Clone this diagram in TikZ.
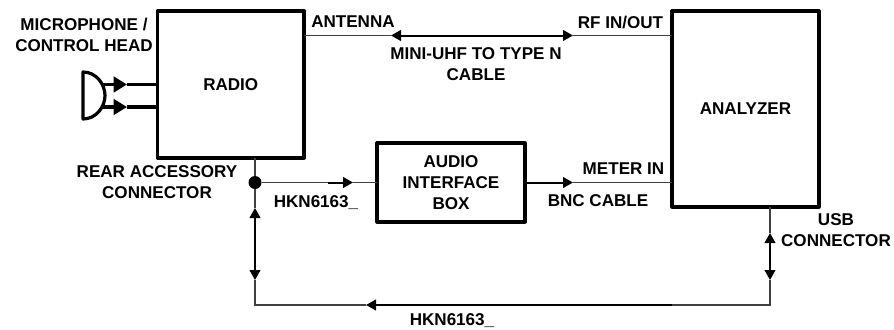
\documentclass[tikz,border=0pt]{standalone}
\usepackage{fontspec}
\setmainfont{Liberation Sans}
\usetikzlibrary{arrows.meta, positioning}

\begin{document}
\begin{tikzpicture}[
    x=0.75pt, y=-0.75pt,
    >={Triangle[length=7.5pt,width=8pt]},
    unit/.style={
        draw=black, fill=white, line width=2.4pt, line join=round, inner sep=0pt, outer sep=0pt,
        align=center, font=\fontsize{12.8}{15.6}\selectfont\bfseries},
    tag/.style={inner sep=0pt, align=center, font=\fontsize{12.8}{15.8}\selectfont\bfseries},
    wire/.style={line width=0.8pt, draw=black!75},
    cable/.style={line width=1.5pt, draw=black},
    micflow/.style={line width=2.4pt, draw=black, >={Triangle[length=10pt,width=11.5pt]}},
    joint/.style={circle, fill=black, inner sep=0pt, minimum size=9.75pt}
]
\useasboundingbox (0,0) rectangle (894,329);

%% Main boxes
\node[unit, minimum width=110pt, minimum height=110.25pt] (radio)    at (230.75,84.5) {RADIO};
\node[unit, minimum width=110.25pt, minimum height=147pt] (analyzer) at (745.5,109)   {ANALYZER};
\node[unit, minimum width=111pt, minimum height=59.25pt]  (audio)    at (451,182.5)   {AUDIO\\INTERFACE\\BOX};
\node[joint] (junction) at (255,182.5) {};

%% Points where the lines change weight
\coordinate (antL) at (391,35.5);
\coordinate (antR) at (573,35.5);
\coordinate (hknA) at (328,182.5);
\coordinate (hknB) at (353,182.5);
\coordinate (bncB) at (573,182.5);
\coordinate (jctU) at (255,208);
\coordinate (jctD) at (255,280);
\coordinate (cornL) at (255,305);
\coordinate (botL) at (366,305);
\coordinate (botR) at (672,305);
\coordinate (cornR) at (770,305);
\coordinate (usbD) at (770,280);
\coordinate (usbU) at (770,233);
\coordinate (micA) at (103,84.5);
\coordinate (micB) at (103,107);
\coordinate (micAt) at (127,84.5);
\coordinate (micBt) at (127,107);

%% Microphone
\draw[line width=2.4pt, line join=round] (83,72) .. controls (96,72) and (105,84) .. (105,95.5)
    .. controls (105,107) and (96,119) .. (83,119) -- cycle;
\draw[micflow, ->] (micA) -- (micAt);
\draw[micflow, ->] (micB) -- (micBt);
\draw[micflow] (micAt) -- (radio.west |- micAt);
\draw[micflow] (micBt) -- (radio.west |- micBt);

%% Antenna cable
\draw[wire] (radio.east |- antL) -- (antL);
\draw[cable, <->] (antL) -- (antR);
\draw[wire] (antR) -- (analyzer.west |- antR);

%% Audio path
\draw[wire] (radio.south -| junction) -- (junction);
\draw[wire] (junction) -- (hknA);
\draw[cable, ->] (hknA) -- (hknB);
\draw[wire] (hknB) -- (audio.west);
\draw[cable, ->] (audio.east) -- (bncB);
\draw[wire] (bncB) -- (analyzer.west |- bncB);

%% Lower loop
\draw[wire] (junction) -- (jctU);
\draw[cable, <->] (jctU) -- (jctD);
\draw[wire] (jctD) -- (cornL) -- (botL);
\draw[cable, <-] (botL) -- (botR);
\draw[wire] (botR) -- (cornR) -- (usbD);
\draw[cable, <->] (usbD) -- (usbU);
\draw[wire] (usbU) -- (analyzer.south -| usbU);

%% Labels
\node[tag] (micLabel)  at (84,34.5)  {MICROPHONE /\\CONTROL HEAD};
\node[tag] (antLabel)  at (353,22)   {ANTENNA};
\node[tag] (rfLabel)   at (620.5,22) {RF IN/OUT};
\node[tag] (miniLabel) at (476,63.8) {MINI-UHF TO TYPE N\\CABLE};
\node[tag] (rearLabel) at (157,182)  {REAR ACCESSORY\\CONNECTOR};
\node[tag] (hknLabel)  at (316,203)  {HKN6163\_};
\node[tag] (mtrLabel)  at (623.5,169) {METER IN};
\node[tag] (bncLabel)  at (598,201)  {BNC CABLE};
\node[tag] (usbLabel)  at (836,230.5) {USB\\CONNECTOR};
\node[tag] (botLabel)  at (452,321)  {HKN6163\_};

\end{tikzpicture}
\end{document}
